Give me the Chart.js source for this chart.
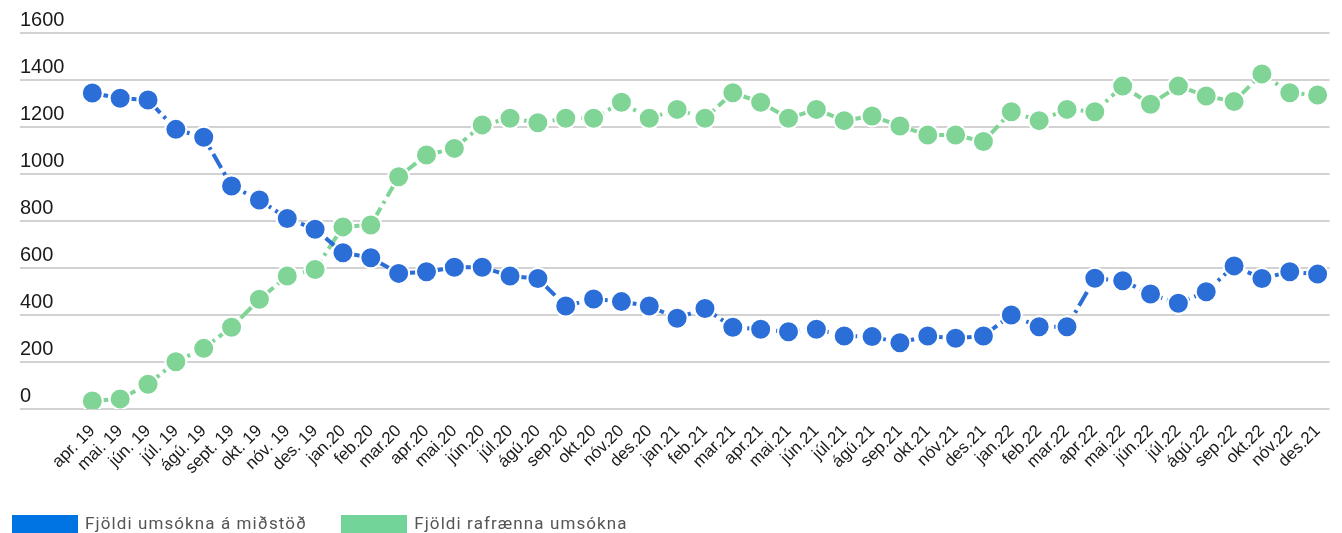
<!DOCTYPE html>
<html>
<head>
<meta charset="utf-8">
<script src="https://cdn.jsdelivr.net/npm/chart.js@4.4.1/dist/chart.umd.min.js"></script>
<style>
  html, body { margin: 0; padding: 0; background: #fff; }
  #wrap { position: relative; width: 1342px; height: 533px; overflow: hidden; }
  #legend { position: absolute; left: 12px; top: 515px; display: flex; font-family: Roboto, sans-serif; font-size: 17px; color: #555; letter-spacing: 1.1px; }
  .item { display: flex; align-items: flex-start; margin-right: 34px; }
  .box { width: 66px; height: 19px; margin-right: 7px; }
  .txt { line-height: 17px; }
</style>
</head>
<body>
<div id="wrap">
  <canvas id="chart" width="1342" height="533"></canvas>
  <div id="legend"></div>
</div>
<script>
const labels = ['apr. 19','mai. 19','jún. 19','júl. 19','ágú. 19','sept. 19','okt. 19','nóv. 19','des. 19',
  'jan.20','feb.20','mar.20','apr.20','mai.20','jún.20','júl.20','ágú.20','sep.20','okt.20','nóv.20','des.20',
  'jan.21','feb.21','mar.21','apr.21','mai.21','jún.21','júl.21','ágú.21','sep.21','okt.21','nóv.21','des.21',
  'jan.22','feb.22','mar.22','apr.22','mai.22','jún.22','júl.22','ágú.22','sep.22','okt.22','nóv.22','des.21'];

// Fjöldi umsókna á miðstöð
const centre = [1345,1322,1315,1190,1156,949,889,811,765,
  665,644,577,584,603,603,566,555,438,468,457,438,
  386,428,348,339,329,339,311,308,282,311,301,311,
  400,350,350,556,546,489,450,499,609,555,584,
  574];

// Fjöldi rafrænna umsókna
const online = [34,43,105,201,258,348,467,566,594,
  775,783,988,1081,1109,1209,1237,1218,1237,1237,1305,1237,
  1275,1237,1346,1305,1237,1275,1227,1247,1204,1166,1166,1138,
  1265,1227,1275,1265,1374,1297,1374,1332,1308,1426,1346,
  1336];

const yTicks = [0, 200, 400, 600, 800, 1000, 1200, 1400, 1600];

const series = [
  { label: 'Fjöldi umsókna á miðstöð', data: centre, line: '#2c6ed8', key: '#0074e2' },
  { label: 'Fjöldi rafrænna umsókna', data: online, line: '#7fd496', key: '#72d498' }
];

const chart = new Chart(document.getElementById('chart'), {
  type: 'line',
  data: {
    datasets: series.map(s => ({
      label: s.label,
      data: s.data.map((v, i) => ({ x: i, y: v })),
      borderColor: s.line,
      backgroundColor: s.line,
      borderWidth: 4,
      borderDash: [16, 5, 3, 5],
      pointRadius: 10.5,
      pointBorderWidth: 2,
      pointBorderColor: '#fff',
      pointBackgroundColor: s.line,
      tension: 0
    }))
  },
  options: {
    responsive: false,
    animation: false,
    layout: { padding: { top: 33, left: 20, right: 0, bottom: 0 } },
    plugins: { legend: { display: false }, tooltip: { enabled: false } },
    scales: {
      x: {
        type: 'linear',
        min: -2.597,
        max: 44.427,
        grid: { display: false },
        border: { display: false },
        afterBuildTicks: scale => { scale.ticks = labels.map((_, i) => ({ value: i })); },
        afterFit: scale => { scale.height = 124; },
        ticks: {
          autoSkip: false,
          minRotation: 45,
          maxRotation: 45,
          padding: 4,
          color: '#1a1a1a',
          font: { family: 'Liberation Sans', size: 17 },
          callback: v => labels[v] ?? ''
        }
      },
      y: {
        min: 0,
        max: 1600,
        afterBuildTicks: scale => { scale.ticks = yTicks.map(v => ({ value: v })); },
        grid: { color: '#d2d2d2', lineWidth: 2, drawTicks: false },
        border: { display: false },
        ticks: {
          mirror: true,
          padding: 0,
          labelOffset: -13,
          color: '#1a1a1a',
          font: { family: 'Liberation Sans', size: 20 },
          callback: v => String(v)
        }
      }
    }
  }
});

const legend = document.getElementById('legend');
series.forEach(s => {
  const item = document.createElement('div');
  item.className = 'item';
  item.innerHTML = '<div class="box" style="background:' + s.key + '"></div><div class="txt">' + s.label + '</div>';
  legend.appendChild(item);
});
</script>
</body>
</html>
